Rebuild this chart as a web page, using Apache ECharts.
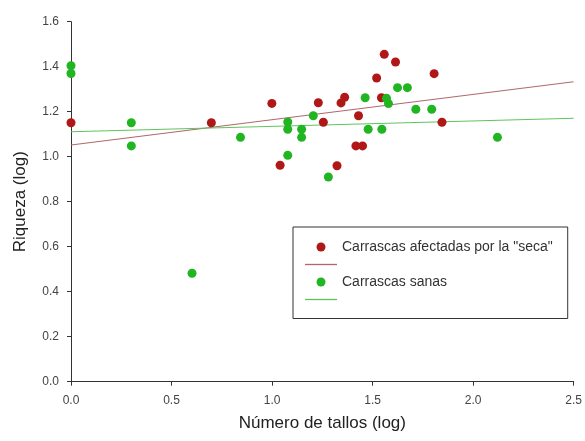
<!DOCTYPE html>
<html>
<head>
<meta charset="utf-8">
<script src="https://cdn.jsdelivr.net/npm/echarts@6/dist/echarts.min.js"></script>
<style>
html,body{margin:0;padding:0;background:#fff;}
#c{width:585px;height:441px;}
</style>
</head>
<body>
<div id="c"></div>
<script>
// Carrascas afectadas por la "seca": [log tallos, log riqueza]
var afectadas = [
  [0.000, 1.151], [0.698, 1.151], [0.999, 1.237], [1.040, 0.962],
  [1.230, 1.240], [1.255, 1.153], [1.323, 0.960], [1.343, 1.239],
  [1.361, 1.264], [1.417, 1.048], [1.430, 1.182], [1.450, 1.048],
  [1.520, 1.350], [1.544, 1.262], [1.558, 1.455], [1.614, 1.421],
  [1.806, 1.369], [1.845, 1.153]
];
// Carrascas sanas
var sanas = [
  [0.000, 1.404], [0.000, 1.370], [0.300, 1.151], [0.300, 1.048],
  [0.602, 0.482], [0.843, 1.086], [1.078, 1.154], [1.078, 1.122],
  [1.078, 1.006], [1.147, 1.122], [1.147, 1.086], [1.205, 1.182],
  [1.280, 0.910], [1.463, 1.262], [1.478, 1.122], [1.546, 1.122],
  [1.569, 1.260], [1.579, 1.236], [1.624, 1.307], [1.673, 1.307],
  [1.715, 1.211], [1.794, 1.211], [2.121, 1.086]
];
// regression lines
var fitX = [0, 2.5];
var fitAfectadas = [1.052, 1.333];
var fitSanas = [1.111, 1.171];

var nameAfectadas = 'Carrascas afectadas por la "seca"';
var nameSanas = 'Carrascas sanas';
var xTitle = 'Número de tallos (log)';
var yTitle = 'Riqueza (log)';

function zip(xs, ys){ return xs.map(function(x,i){ return [x, ys[i]]; }); }

var font = 'Liberation Sans, Arial, sans-serif';
var lineIcon = 'path://M0,0L32,0L32,1.3L0,1.3Z';
var chart = echarts.init(document.getElementById('c'), null, {renderer:'canvas'});
chart.setOption({
  animation: false,
  backgroundColor: '#ffffff',
  grid: {left: 71, right: 10, top: 21.7, bottom: 59.3, containLabel: false},
  xAxis: {
    type: 'value', min: 0, max: 2.5, interval: 0.5,
    name: xTitle, nameLocation: 'middle', nameGap: 33,
    nameTextStyle: {fontFamily: font, fontSize: 17, color: '#222'},
    axisLine: {lineStyle: {color: '#333', width: 1}},
    axisTick: {show: true, inside: false, length: 4, lineStyle: {color: '#333'}},
    axisLabel: {margin: 13, fontFamily: font, fontSize: 12, color: '#444',
      formatter: function(v){ return v.toFixed(1); }},
    splitLine: {show: false}
  },
  yAxis: {
    type: 'value', min: 0, max: 1.6, interval: 0.2,
    name: yTitle, nameLocation: 'middle', nameGap: 42, nameRotate: 90,
    nameTextStyle: {fontFamily: font, fontSize: 17, color: '#222'},
    axisLine: {show: true, lineStyle: {color: '#333', width: 1}},
    axisTick: {show: true, inside: false, length: 4, lineStyle: {color: '#333'}},
    axisLabel: {margin: 12, fontFamily: font, fontSize: 12, color: '#444',
      formatter: function(v){ return v.toFixed(1); }},
    splitLine: {show: false}
  },
  legend: {
    orient: 'vertical', left: 293, top: 227,
    padding: [13, 15, 12, 12], itemGap: 3.5, itemWidth: 32, itemHeight: 9,
    borderColor: '#333', borderWidth: 1, backgroundColor: '#fff',
    selectedMode: false, symbolKeepAspect: true,
    textStyle: {fontFamily: font, fontSize: 14, color: '#333'},
    formatter: function(n){ return n.indexOf('ajuste') === 0 ? ' ' : n; },
    data: [
      {name: nameAfectadas, icon: 'circle'},
      {name: 'ajuste afectadas', icon: lineIcon},
      {name: nameSanas, icon: 'circle'},
      {name: 'ajuste sanas', icon: lineIcon}
    ]
  },
  series: [
    {name: 'ajuste afectadas', type: 'line', data: zip(fitX, fitAfectadas),
     symbol: 'none', showSymbol: false, z: 1,
     lineStyle: {color: '#b0686e', width: 1.2}, itemStyle: {color: '#b0686e'}},
    {name: 'ajuste sanas', type: 'line', data: zip(fitX, fitSanas),
     symbol: 'none', showSymbol: false, z: 1,
     lineStyle: {color: '#5fc45f', width: 1.2}, itemStyle: {color: '#5fc45f'}},
    {name: nameAfectadas, type: 'scatter', data: afectadas, symbol: 'circle',
     symbolSize: 9, z: 3, itemStyle: {color: '#b01818', opacity: 1}},
    {name: nameSanas, type: 'scatter', data: sanas, symbol: 'circle',
     symbolSize: 9, z: 3, itemStyle: {color: '#22b522', opacity: 1}}
  ]
});
</script>
</body>
</html>
